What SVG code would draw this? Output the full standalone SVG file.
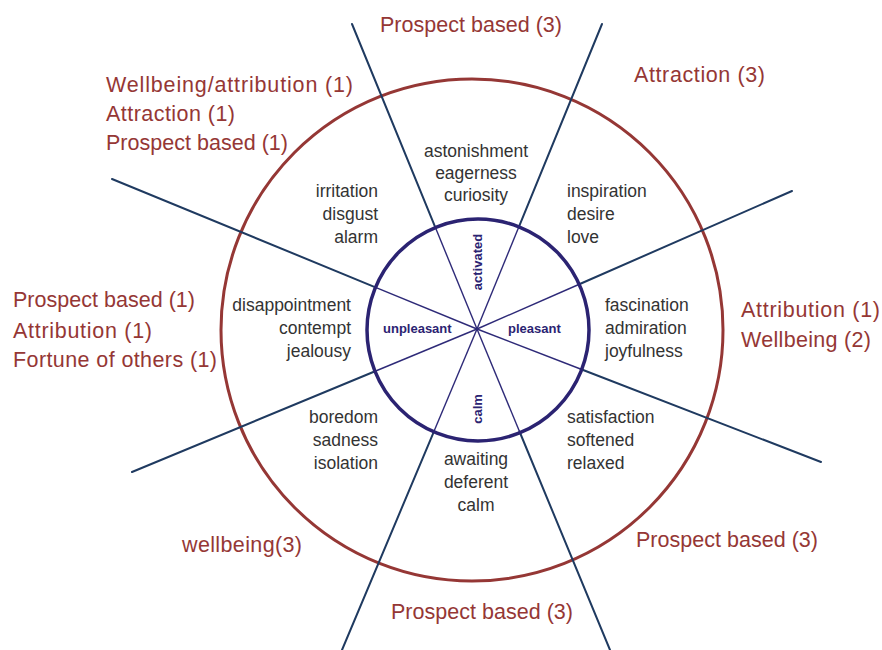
<svg xmlns="http://www.w3.org/2000/svg" width="882" height="650" viewBox="0 0 882 650">
  <style>
    .ring-outer { fill: none; stroke: #953735; stroke-width: 3; }
    .ring-inner { fill: none; stroke: #2b2372; stroke-width: 3.5; }
    .spoke-out { stroke: #1f3a60; stroke-width: 2; stroke-linecap: round; }
    .spoke-in { stroke: #2e2a78; stroke-width: 1.4; }
    .emo { font-family: "Liberation Sans", Arial, sans-serif; font-size: 17.5px; fill: #333333; }
    .axis { font-family: "Liberation Sans", Arial, sans-serif; font-size: 13px; font-weight: bold; fill: #2b2372; }
    .cat { font-family: "Liberation Sans", Arial, sans-serif; font-size: 21.5px; fill: #953735; }
    .r { text-anchor: end; }
    .m { text-anchor: middle; }
  </style>
  <rect width="882" height="650" fill="#ffffff"/>

  <!-- outer ring -->
  <circle id="outer-ring" class="ring-outer" cx="472" cy="330" r="251"/>

  <!-- spokes -->
  <g id="connectors">
    <line class="spoke-out" x1="352" y1="24" x2="434.9" y2="226.3"/>
    <line class="spoke-out" x1="602" y1="24" x2="519.1" y2="226.3"/>
    <line class="spoke-out" x1="112" y1="179" x2="374.3" y2="286.8"/>
    <line class="spoke-out" x1="132" y1="472" x2="374.5" y2="371.5"/>
    <line class="spoke-out" x1="792" y1="191" x2="578.7" y2="284.5"/>
    <line class="spoke-out" x1="821" y1="462" x2="580.5" y2="369"/>
    <line class="spoke-out" x1="342" y1="650" x2="434" y2="431.3"/>
    <line class="spoke-out" x1="610" y1="650" x2="519.5" y2="431.5"/>

    <line class="spoke-in" x1="434.9" y1="226.3" x2="477" y2="329"/>
    <line class="spoke-in" x1="519.1" y1="226.3" x2="477" y2="329"/>
    <line class="spoke-in" x1="374.3" y1="286.8" x2="477" y2="329"/>
    <line class="spoke-in" x1="374.5" y1="371.5" x2="477" y2="329"/>
    <line class="spoke-in" x1="578.7" y1="284.5" x2="477" y2="329"/>
    <line class="spoke-in" x1="580.5" y1="369" x2="477" y2="329"/>
    <line class="spoke-in" x1="434" y1="431.3" x2="477" y2="329"/>
    <line class="spoke-in" x1="519.5" y1="431.5" x2="477" y2="329"/>
  </g>

  <!-- inner ring with axis labels -->
  <g id="core">
    <circle class="ring-inner" cx="478" cy="330" r="111"/>
    <text class="axis m" transform="translate(482 262) rotate(-90)">activated</text>
    <text class="axis m" transform="translate(482 409) rotate(-90)">calm</text>
    <text class="axis" x="383" y="333">unpleasant</text>
    <text class="axis" x="508" y="333">pleasant</text>
  </g>

  <!-- emotion sectors -->
  <g id="sector-top">
    <text class="emo m" x="476" y="157">astonishment</text>
    <text class="emo m" x="476" y="179">eagerness</text>
    <text class="emo m" x="476" y="201">curiosity</text>
  </g>
  <g id="sector-top-right">
    <text class="emo" x="567" y="197">inspiration</text>
    <text class="emo" x="567" y="220">desire</text>
    <text class="emo" x="567" y="243">love</text>
  </g>
  <g id="sector-right">
    <text class="emo" x="605" y="311">fascination</text>
    <text class="emo" x="605" y="334">admiration</text>
    <text class="emo" x="605" y="357">joyfulness</text>
  </g>
  <g id="sector-bottom-right">
    <text class="emo" x="567" y="423">satisfaction</text>
    <text class="emo" x="567" y="446">softened</text>
    <text class="emo" x="567" y="469">relaxed</text>
  </g>
  <g id="sector-bottom">
    <text class="emo m" x="476" y="465">awaiting</text>
    <text class="emo m" x="476" y="488">deferent</text>
    <text class="emo m" x="476" y="511">calm</text>
  </g>
  <g id="sector-bottom-left">
    <text class="emo r" x="378" y="423">boredom</text>
    <text class="emo r" x="378" y="446">sadness</text>
    <text class="emo r" x="378" y="469">isolation</text>
  </g>
  <g id="sector-left">
    <text class="emo r" x="351" y="311">disappointment</text>
    <text class="emo r" x="351" y="334">contempt</text>
    <text class="emo r" x="351" y="357">jealousy</text>
  </g>
  <g id="sector-top-left">
    <text class="emo r" x="378" y="197">irritation</text>
    <text class="emo r" x="378" y="220">disgust</text>
    <text class="emo r" x="378" y="243">alarm</text>
  </g>

  <!-- appraisal categories -->
  <g id="cat-top"><text class="cat" x="380" y="32" textLength="182" lengthAdjust="spacing">Prospect based (3)</text></g>
  <g id="cat-top-right"><text class="cat" x="634" y="82" textLength="131" lengthAdjust="spacing">Attraction (3)</text></g>
  <g id="cat-top-left">
    <text class="cat" x="106" y="92" textLength="247" lengthAdjust="spacing">Wellbeing/attribution (1)</text>
    <text class="cat" x="106" y="121" textLength="129" lengthAdjust="spacing">Attraction (1)</text>
    <text class="cat" x="106" y="150" textLength="182" lengthAdjust="spacing">Prospect based (1)</text>
  </g>
  <g id="cat-left">
    <text class="cat" x="13" y="307" textLength="182" lengthAdjust="spacing">Prospect based (1)</text>
    <text class="cat" x="13" y="338" textLength="139" lengthAdjust="spacing">Attribution (1)</text>
    <text class="cat" x="13" y="367" textLength="204" lengthAdjust="spacing">Fortune of others (1)</text>
  </g>
  <g id="cat-right">
    <text class="cat" x="741" y="317" textLength="139" lengthAdjust="spacing">Attribution (1)</text>
    <text class="cat" x="741" y="347" textLength="130" lengthAdjust="spacing">Wellbeing (2)</text>
  </g>
  <g id="cat-bottom-left"><text class="cat" x="182" y="552" textLength="120" lengthAdjust="spacing">wellbeing(3)</text></g>
  <g id="cat-bottom-right"><text class="cat" x="636" y="547" textLength="182" lengthAdjust="spacing">Prospect based (3)</text></g>
  <g id="cat-bottom"><text class="cat" x="391" y="619" textLength="182" lengthAdjust="spacing">Prospect based (3)</text></g>
</svg>
